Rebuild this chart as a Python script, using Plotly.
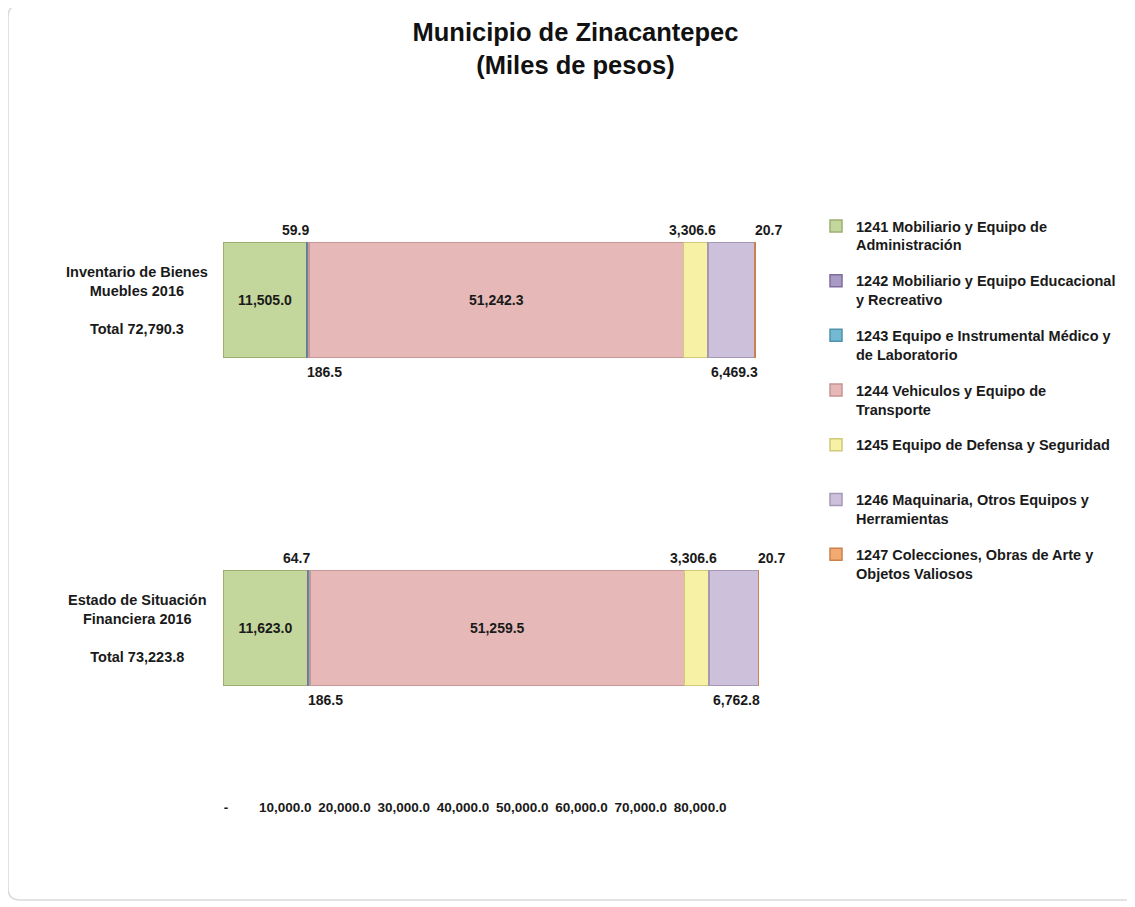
import plotly.graph_objects as go

# data
bar_names = ["Inventario de Bienes<br>Muebles 2016", "Estado de Situación<br>Financiera 2016"]
series_labels = [
    "1241 Mobiliario y Equipo de<br>Administración",
    "1242 Mobiliario y Equipo Educacional<br>y Recreativo",
    "1243 Equipo e Instrumental Médico y<br>de Laboratorio",
    "1244 Vehiculos y Equipo de<br>Transporte",
    "1245 Equipo de Defensa y Seguridad<br> ",
    "1246 Maquinaria, Otros Equipos y<br>Herramientas",
    "1247 Colecciones, Obras de Arte y<br>Objetos Valiosos",
]
inventario = [11505.0, 59.9, 186.5, 51242.3, 3306.6, 6469.3, 20.7]
estado = [11623.0, 64.7, 186.5, 51259.5, 3306.6, 6762.8, 20.7]
tick_vals = [0, 10000, 20000, 30000, 40000, 50000, 60000, 70000, 80000]
tick_text = ["-", "10,000.0", "20,000.0", "30,000.0", "40,000.0",
             "50,000.0", "60,000.0", "70,000.0", "80,000.0"]

colors = ["#C3D69B", "#A99BC6", "#72B9D1", "#E6B9B8", "#F6F1A4", "#CCC0DA", "#F2AA72"]
edges = ["#9DB070", "#7D6C9C", "#4F93AA", "#C49694", "#CFC97C", "#A598B5", "#C9824D"]
# label placement per series: inside / above / below, plus horizontal nudge
placement = ["in", "up", "down", "in", "up", "down", "up"]
nudge = [0, -12, 16, 0, -3, 3, 13]

W, H = 1135, 907
OFF = 8  # page margin around the figure
L, T, PW, PH = 215, 128, 585, 656
FONT = "Liberation Sans, Arial, sans-serif"


def px(xp):
    # screen pixel -> paper x
    return (xp - OFF - L) / PW


def py(yp):
    # screen pixel -> paper y
    return (T + PH - (yp - OFF)) / PH


rows = [inventario, estado]
fig = go.Figure()
for i, lab in enumerate(series_labels):
    vals = [r[i] for r in rows]
    fig.add_trace(go.Bar(
        y=bar_names, x=vals, orientation="h", name=lab,
        legendgroup=str(i), width=0.35,
        marker=dict(color=colors[i], line=dict(color=edges[i], width=1.5)),
        texttemplate="%{x:,.1f}" if placement[i] == "in" else None,
        textposition="inside" if placement[i] == "in" else "none",
        insidetextanchor="middle",
        textfont=dict(family=FONT, size=14, color="#1a1a1a", weight="bold"),
        hovertemplate="%{x:,.1f}<extra></extra>",
    ))

# labels for the thin segments
annotations = []
for r, name in zip(rows, bar_names):
    start = 0
    for i, v in enumerate(r):
        if placement[i] != "in":
            annotations.append(dict(
                x=start + v / 2, y=name, xref="x", yref="y",
                text=f"{v:,.1f}", showarrow=False,
                xshift=nudge[i], yshift=70 if placement[i] == "up" else -72,
                font=dict(family=FONT, size=14, color="#1a1a1a", weight="bold"),
            ))
        start += v
    annotations.append(dict(
        x=px(137), y=name, xref="paper", yref="y", xanchor="center",
        text=f"{name}<br><br>Total {sum(r):,.1f}", showarrow=False, align="center",
        font=dict(family=FONT, size=14.5, color="#1a1a1a", weight="bold"),
    ))

# empty trace so the overlaid axis carrying the printed tick labels is drawn
fig.add_trace(go.Scatter(x=[], y=[], xaxis="x2", yaxis="y", showlegend=False,
                         hoverinfo="skip"))

# rounded frame around the chart area
x0, x1, y0, y1, rad = px(8), px(1150), py(5), py(900), 12
rx, ry = rad / PW, rad / PH
frame = (f"M {x0 + rx},{y0} L {x1 - rx},{y0} Q {x1},{y0} {x1},{y0 - ry} "
         f"L {x1},{y1 + ry} Q {x1},{y1} {x1 - rx},{y1} L {x0 + rx},{y1} "
         f"Q {x0},{y1} {x0},{y1 + ry} L {x0},{y0 - ry} Q {x0},{y0} {x0 + rx},{y0} Z")

fig.update_layout(
    width=W, height=H,
    barmode="stack",
    paper_bgcolor="white", plot_bgcolor="white",
    margin=dict(l=L, r=W - L - PW, t=T, b=H - T - PH, autoexpand=False),
    title=dict(text="Municipio de Zinacantepec<br>(Miles de pesos)",
               x=0.5, xanchor="center", y=1 - (41 - OFF) / H, yanchor="middle",
               font=dict(family=FONT, size=25.5, color="#111111", weight="bold")),
    xaxis=dict(range=[0, 80000], showticklabels=False, showgrid=False,
               zeroline=False, showline=False, ticks=""),
    xaxis2=dict(range=[-500, 98200], overlaying="x", anchor="y", side="bottom",
                tickvals=tick_vals, ticktext=tick_text, showgrid=False,
                zeroline=False, showline=False, ticks="", ticklabelstandoff=5,
                tickfont=dict(family=FONT, size=13.5, color="#1a1a1a", weight="bold")),
    yaxis=dict(categoryorder="array", categoryarray=bar_names, range=[1.5, -0.5],
               showticklabels=False, showgrid=False, zeroline=False, ticks=""),
    legend=dict(x=px(816), y=py(210), xanchor="left", yanchor="top",
                traceorder="grouped", tracegroupgap=14, valign="top",
                bgcolor="rgba(0,0,0,0)",
                font=dict(family=FONT, size=14.5, color="#1a1a1a", weight="bold")),
    annotations=annotations,
    shapes=[dict(type="path", path=frame, xref="paper", yref="paper",
                 line=dict(color="#D9D9D9", width=1.5), layer="below")],
)

fig.write_html("out.html")
